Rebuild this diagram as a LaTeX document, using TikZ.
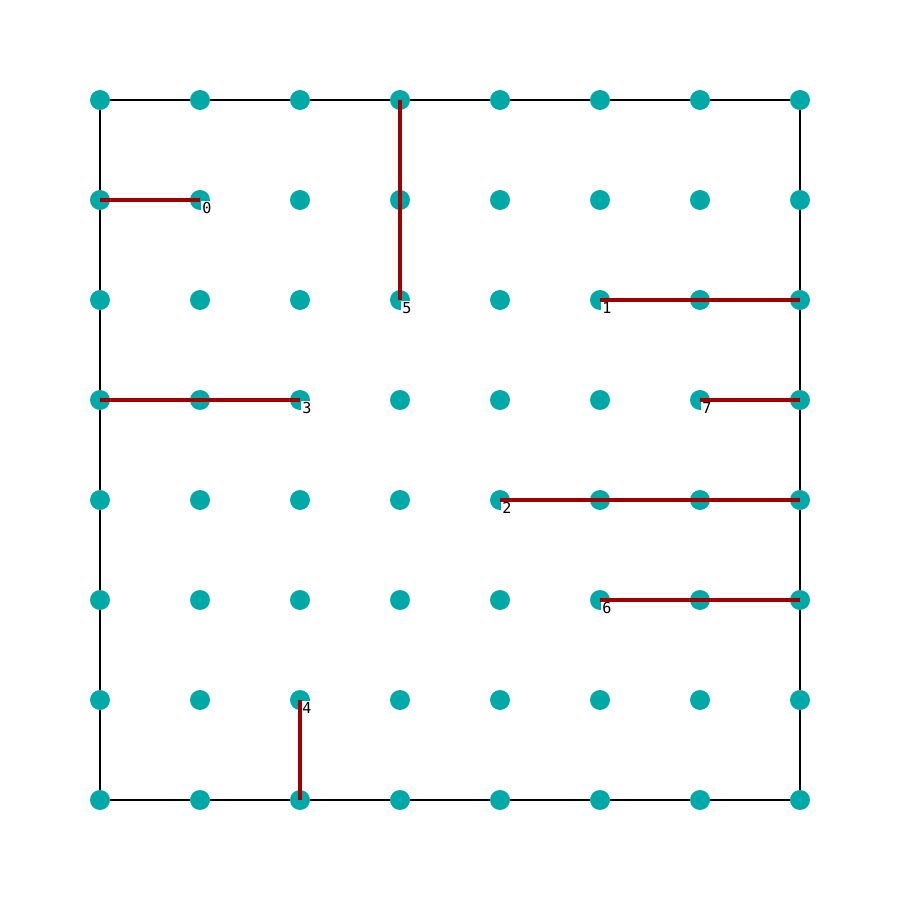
\documentclass[tikz,border=0pt]{standalone}
\usepackage{fontspec}
\setmonofont{DejaVu Sans Mono}
\definecolor{dotc}{RGB}{0,168,168}
\definecolor{segc}{RGB}{160,0,0}
\begin{document}
\begin{tikzpicture}[x=1cm,y=1cm,
  dot/.style={circle,fill=dotc,draw=none,minimum size=0.2cm,inner sep=0pt},
  seg/.style={draw=segc,line width=1.1pt},
  lab/.style={fill=white,inner sep=0.5pt,anchor=north west,font=\ttfamily\fontsize{4.3}{4.3}\selectfont}]
\useasboundingbox (0,0) rectangle (9,9);
\draw[line width=0.6pt] (1,1) rectangle (8,8);
\foreach \i in {1,...,8}{
  \foreach \j in {1,...,8}{
    \node[dot] (d-\i-\j) at (\i,9-\j) {};
  }
}
% labels
\node[lab] (l0) at (d-2-2.center) {0};
\node[lab] (l5) at (d-4-3.center) {5};
\node[lab] (l1) at (d-6-3.center) {1};
\node[lab] (l3) at (d-3-4.center) {3};
\node[lab] (l7) at (d-7-4.center) {7};
\node[lab] (l2) at (d-5-5.center) {2};
\node[lab] (l6) at (d-6-6.center) {6};
\node[lab] (l4) at (d-3-7.center) {4};
% segments
\draw[seg] (d-1-2.center) -- (d-2-2.center);
\draw[seg] (d-4-1.center) -- (d-4-3.center);
\draw[seg] (d-6-3.center) -- (d-8-3.center);
\draw[seg] (d-1-4.center) -- (d-3-4.center);
\draw[seg] (d-7-4.center) -- (d-8-4.center);
\draw[seg] (d-5-5.center) -- (d-8-5.center);
\draw[seg] (d-6-6.center) -- (d-8-6.center);
\draw[seg] (d-3-7.center) -- (d-3-8.center);
\end{tikzpicture}
\end{document}
